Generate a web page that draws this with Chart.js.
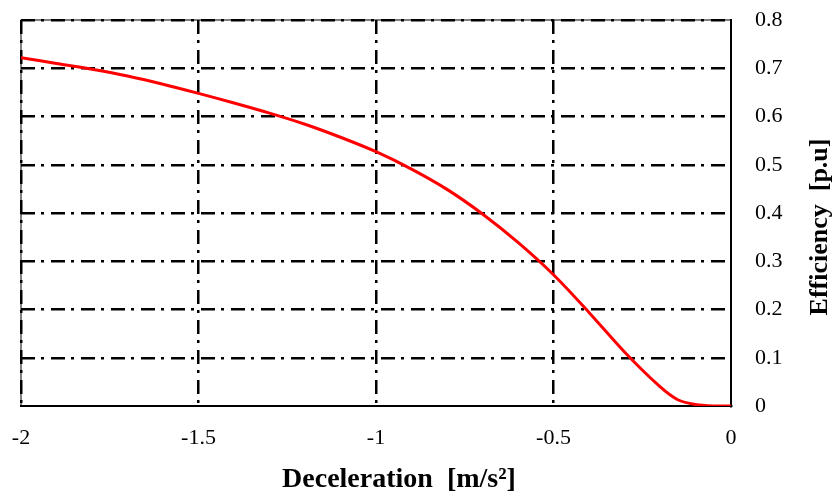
<!DOCTYPE html>
<html>
<head>
<meta charset="utf-8">
<script src="https://cdn.jsdelivr.net/npm/chart.js@4.4.1/dist/chart.umd.min.js"></script>
<style>
  html, body { margin: 0; padding: 0; background: #fff; }
  #wrap { width: 835px; height: 497px; }
</style>
</head>
<body>
<div id="wrap"><canvas id="chart" width="835" height="497"></canvas></div>
<script>
(function () {
    'use strict';

    // deceleration [m/s2] and efficiency [p.u]
    const decel = [-2, -1.9, -1.8, -1.7, -1.6, -1.5, -1.4, -1.3, -1.2, -1.1, -1, -0.9, -0.8, -0.7, -0.6, -0.5, -0.4, -0.3, -0.2, -0.15, -0.1, -0.05, 0];
    const efficiency = [0.722, 0.710, 0.698, 0.684, 0.667, 0.648, 0.628, 0.607, 0.584, 0.557, 0.527, 0.491, 0.449, 0.398, 0.339, 0.272, 0.194, 0.112, 0.040, 0.013, 0.003, 0.0, 0.0];
    const xTicks = [-2, -1.5, -1, -0.5, 0];
    const yTicks = [0, 0.1, 0.2, 0.3, 0.4, 0.5, 0.6, 0.7, 0.8];

    const xTitle = 'Deceleration  [m/s\u00B2]';
    const yTitle = 'Efficiency  [p.u]';

    const serif = "'Liberation Serif', 'Times New Roman', serif";
    const dashDot = [14, 6, 3, 7];

    // grid line hidden where the solid axis line sits
    function gridColor(ctx) {
        return ctx.tick && ctx.tick.value === 0 ? 'rgba(0,0,0,0)' : '#000';
    }

    // thin frame round the plot plus the two axis titles
    const framePlugin = {
        id: 'frame',
        beforeDatasetsDraw(chart) {
            const a = chart.chartArea;
            const c = chart.ctx;
            c.save();
            c.strokeStyle = '#000';
            c.lineWidth = 1;
            c.strokeRect(a.left, a.top, a.right - a.left, a.bottom - a.top);
            c.restore();
        },
        afterDraw(chart) {
            const a = chart.chartArea;
            const c = chart.ctx;
            c.save();
            c.fillStyle = '#000';
            c.textAlign = 'center';
            c.textBaseline = 'middle';
            c.font = 'bold 28px ' + serif;
            c.fillText(xTitle, (a.left + a.right) / 2 + 23, 480);
            c.font = 'bold 26px ' + serif;
            c.translate(820, (a.top + a.bottom) / 2 + 14);
            c.rotate(-Math.PI / 2);
            c.fillText(yTitle, 0, 0);
            c.restore();
        }
    };

    new Chart(document.getElementById('chart'), {
        type: 'line',
        data: {
            datasets: [{
                data: decel.map(function (x, i) { return { x: x, y: efficiency[i] }; }),
                borderColor: '#ff0000',
                borderWidth: 3,
                pointRadius: 0,
                tension: 0.3,
                fill: false
            }]
        },
        options: {
            responsive: false,
            animation: false,
            layout: { padding: { left: 21, top: 20, right: 0, bottom: 0 } },
            plugins: { legend: { display: false }, tooltip: { enabled: false } },
            scales: {
                x: {
                    type: 'linear',
                    min: -2,
                    max: 0,
                    afterBuildTicks(scale) { scale.ticks = xTicks.map(function (v) { return { value: v }; }); },
                    afterFit(scale) {
                        scale.height = 91;
                        scale.paddingLeft = 0;
                        scale.paddingRight = 0;
                    },
                    ticks: {
                        color: '#000',
                        font: { family: serif, size: 22 },
                        padding: 19,
                        maxRotation: 0,
                        callback: function (v) { return String(v); }
                    },
                    grid: { color: gridColor, lineWidth: 2.5, drawTicks: false },
                    border: { display: true, color: '#000', width: 2, dash: dashDot }
                },
                y: {
                    type: 'linear',
                    position: 'right',
                    min: 0,
                    max: 0.8,
                    afterBuildTicks(scale) { scale.ticks = yTicks.map(function (v) { return { value: v }; }); },
                    afterFit(scale) {
                        scale.width = 104;
                        scale.paddingTop = 0;
                        scale.paddingBottom = 0;
                    },
                    ticks: {
                        color: '#000',
                        font: { family: serif, size: 22 },
                        padding: 24,
                        callback: function (v) { return String(v); }
                    },
                    grid: { color: gridColor, lineWidth: 2.5, drawTicks: false },
                    border: { display: true, color: '#000', width: 2, dash: dashDot }
                }
            }
        },
        plugins: [framePlugin]
    });
})();
</script>
</body>
</html>
